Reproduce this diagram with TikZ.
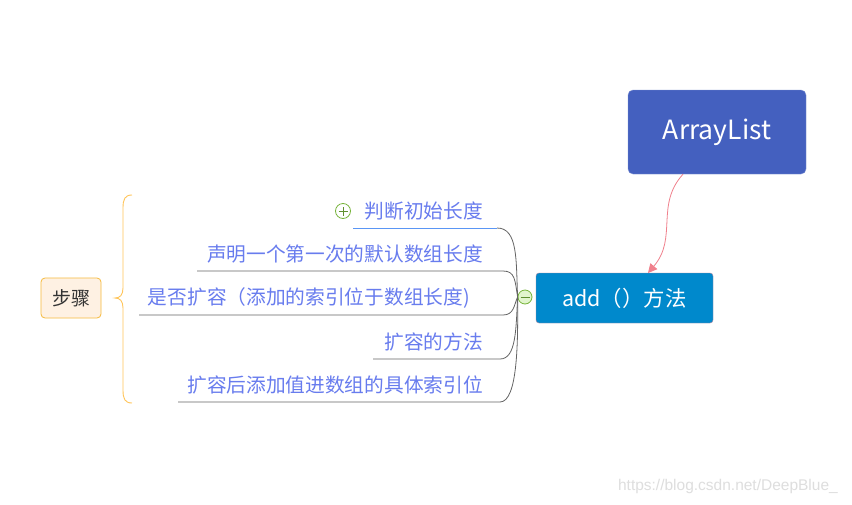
\documentclass[tikz,border=0pt]{standalone}
\usepackage{fontspec}
\setmainfont{Noto Sans CJK SC}
\newfontfamily\cjk{Noto Sans CJK SC}
\usetikzlibrary{arrows.meta}
\definecolor{alblue}{RGB}{68,96,191}
\definecolor{addblue}{RGB}{0,137,204}
\definecolor{txtblue}{RGB}{104,124,238}
\definecolor{linegray}{RGB}{100,100,100}
\definecolor{selblue}{RGB}{90,150,245}
\definecolor{relpink}{RGB}{240,128,140}
\definecolor{braceorg}{RGB}{255,197,90}
\definecolor{stepfill}{RGB}{254,241,227}
\definecolor{stepdraw}{RGB}{246,186,60}
\definecolor{tgreen}{RGB}{120,180,60}
\definecolor{tgreenfill}{RGB}{225,245,205}
\definecolor{wm}{RGB}{222,222,222}
\tikzset{
  branchtext/.style={anchor=east, inner sep=0pt, text=txtblue, font=\cjk\fontsize{19.7}{21}\selectfont},
  branchline/.style={draw=linegray, line width=0.8pt},
  toggle/.style={circle, draw=tgreen, fill=tgreenfill, minimum size=14pt, inner sep=0pt, line width=0.8pt},
}
\begin{document}
\begin{tikzpicture}[x=1pt,y=-1pt]
\useasboundingbox (0,0) rectangle (852,504);
\fill[white] (0,0) rectangle (852,504);
% main boxes
\node[fill=alblue, draw=alblue!70!white, rounded corners=5pt, minimum width=178pt, minimum height=84pt, text=white, font=\cjk\fontsize{26.5}{30}\selectfont] (al) at (717,132) {ArrayList};
\node[fill=addblue, draw=relpink!70!addblue, rounded corners=3pt, minimum width=177pt, minimum height=50pt, text=white, font=\cjk\fontsize{21.4}{24}\selectfont] (add) at (624.5,298) {add（）方法};
\draw[relpink, line width=0.8pt, -{Triangle[length=9pt,width=9pt]}] (al.south) ++(-34,0) coordinate (als) .. controls (655,205) and (678,238) .. (648,273) coordinate (adt);
% toggle
\node[toggle] (tog) at (525,297) {};
\draw[tgreen!80!black, line width=1pt] ([xshift=-4.5pt]tog.center) -- ([xshift=4.5pt]tog.center);
% branch text
\node[branchtext] (b1) at (483,211) {判断初始长度};
\node[branchtext] (b2) at (483,254) {声明一个第一次的默认数组长度};
\node[branchtext] (b3) at (470,298) {是否扩容（添加的索引位于数组长度)};
\node[branchtext] (b4) at (483,342) {扩容的方法};
\node[branchtext] (b5) at (483,385) {扩容后添加值进数组的具体索引位};
% underline coordinates
\coordinate (u1l) at (353,228); \coordinate (u1r) at (497,228);
\coordinate (u2l) at (197,271); \coordinate (u2r) at (503,271);
\coordinate (u3l) at (139,315); \coordinate (u3r) at (503,315);
\coordinate (u4l) at (373,359); \coordinate (u4r) at (500,359);
\coordinate (u5l) at (178,402); \coordinate (u5r) at (500,402);
\draw[branchline] (tog.west) .. controls (516,260) and (518,228) .. (u1r);
\draw[selblue, line width=0.8pt] (u1r) -- (u1l);
\draw[branchline] (tog.west) .. controls (515,280) and (515,271) .. (u2r) -- (u2l);
\draw[branchline] (tog.west) .. controls (514,305) and (514,315) .. (u3r) -- (u3l);
\draw[branchline] (tog.west) .. controls (516,330) and (516,359) .. (u4r) -- (u4l);
\draw[branchline] (tog.west) .. controls (518,340) and (518,402) .. (u5r) -- (u5l);
% plus toggle
\node[toggle, minimum size=15pt, fill=white] (plus) at (343,211) {};
\draw[tgreen!80!black, line width=0.9pt] ([xshift=-4.5pt]plus.center) -- ([xshift=4.5pt]plus.center) ([yshift=-4.5pt]plus.center) -- ([yshift=4.5pt]plus.center);
% brace
\coordinate (bt) at (132,195); \coordinate (bb) at (132,403); \coordinate (btip) at (115,298);
\draw[braceorg, line width=0.9pt] (bt) .. controls (125,195) and (123,199) .. (123,208) -- (123,288) .. controls (123,295) and (120,298) .. (btip) .. controls (120,298) and (123,301) .. (123,308) -- (123,390) .. controls (123,399) and (125,403) .. (bb);
% step node
\node[fill=stepfill, draw=stepdraw, rounded corners=4pt, minimum width=60pt, minimum height=40pt, text=black!80, font=\cjk\fontsize{19}{21}\selectfont, line width=0.8pt] (steps) at (71,298) {步骤};
% watermark
\node[anchor=east, inner sep=0pt, text=wm, font=\fontspec{Liberation Sans}\fontsize{15.5}{17}\selectfont] (wmk) at (838,486) {https://blog.csdn.net/DeepBlue\_};
\end{tikzpicture}
\end{document}
